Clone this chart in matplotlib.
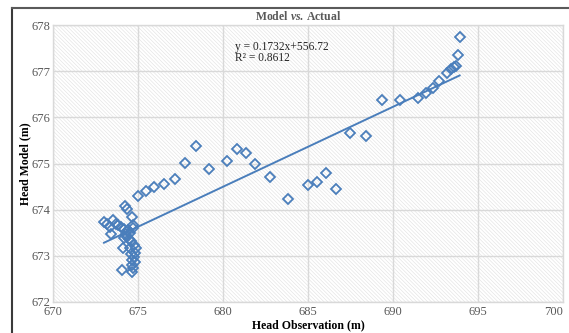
import numpy as np
import matplotlib
matplotlib.use("Agg")
import matplotlib.pyplot as plt
from matplotlib.patches import Rectangle
from matplotlib.lines import Line2D

# --- data ---
obs_upper = [693.92, 693.80, 693.73, 693.57, 693.40, 693.18, 692.73, 692.36,
             691.95, 691.48, 690.39, 689.37, 688.40, 687.49]
mod_upper = [677.73, 677.34, 677.12, 677.09, 677.04, 676.97, 676.78, 676.64,
             676.52, 676.41, 676.37, 676.37, 675.59, 675.67]

obs_mid = [686.65, 686.06, 685.52, 684.99, 683.84, 682.75, 681.89, 681.33,
           680.80, 680.21, 679.18, 678.40, 677.74, 677.15, 676.51, 675.96,
           675.48, 675.01]
mod_mid = [674.45, 674.79, 674.60, 674.54, 674.23, 674.70, 675.00, 675.22,
           675.32, 675.06, 674.88, 675.38, 675.02, 674.67, 674.56, 674.50,
           674.41, 674.30]

obs_cluster = [673.00, 673.16, 673.35, 673.39, 673.55, 673.70, 673.85, 674.00,
               674.15, 674.23, 674.35, 674.66, 674.70, 674.72, 674.17, 674.27,
               674.37, 674.46, 674.60, 674.11, 674.52, 674.75, 674.91, 674.85,
               674.56, 674.75, 674.66, 674.85, 674.66, 674.72, 674.04, 674.66,
               674.50, 674.40]
mod_cluster = [673.74, 673.68, 673.62, 673.47, 673.78, 673.70, 673.66, 673.62,
               673.58, 674.07, 674.02, 673.85, 673.67, 673.60, 673.38, 673.47,
               673.41, 673.36, 673.32, 673.17, 673.16, 673.23, 673.16, 673.07,
               673.05, 672.98, 672.91, 672.87, 672.80, 672.74, 672.69, 672.66,
               673.50, 673.55]

head_obs = np.array(obs_cluster + obs_mid + obs_upper)
head_model = np.array(mod_cluster + mod_mid + mod_upper)

# trendline as reported on the chart
slope = 0.1732
intercept = 556.72
r_squared = 0.8612

x_ticks = [670, 675, 680, 685, 690, 695, 700]
y_ticks = [672, 673, 674, 675, 676, 677, 678]

blue = "#4a7ebb"
grey_text = "#595959"

plt.rcParams["font.family"] = ["Liberation Serif", "DejaVu Serif"]
plt.rcParams["mathtext.fontset"] = "custom"
plt.rcParams["mathtext.rm"] = "Liberation Serif:bold"
plt.rcParams["mathtext.it"] = "Liberation Serif:italic:bold"
plt.rcParams["hatch.linewidth"] = 0.45

fig = plt.figure(figsize=(5.69, 3.33), dpi=100)
ax = fig.add_axes([53 / 569, 1 - 302 / 333, 510 / 569, 277 / 333])

# finely hatched plot area
ax.add_patch(Rectangle((0, 0), 1, 1, transform=ax.transAxes, facecolor="white",
                       edgecolor="#e3e3e3", linewidth=0, hatch="\\" * 9, zorder=0))

ax.set_xlim(670, 700)
ax.set_ylim(672, 678)
ax.set_xticks(x_ticks)
ax.set_yticks(y_ticks)
ax.grid(True, color="#d9d9d9", linewidth=1.0, zorder=1)
ax.set_axisbelow(True)
for sp in ax.spines.values():
    sp.set_color("#d9d9d9")
    sp.set_linewidth(1.0)
ax.tick_params(length=0, labelsize=9, labelcolor=grey_text, pad=2)
ax.tick_params(axis="x", pad=3)
ax.get_xticklabels()[-1].set_horizontalalignment("right")

ax.plot(head_obs, head_model, linestyle="none", marker="D", markersize=4.6,
        markerfacecolor="none", markeredgecolor=blue, markeredgewidth=1.3, zorder=3)

xs = np.array([head_obs.min(), head_obs.max()])
ax.plot(xs, slope * xs + intercept, color=blue, linewidth=1.4, zorder=4)

ax.text(680.7, 677.65, f"y = {slope}x+{intercept}\nR² = {r_squared}",
        fontsize=8.3, color="#262626", va="top", ha="left", linespacing=0.9, zorder=5)

ax.set_xlabel("Head Observation (m)", fontsize=8.5, fontweight="bold", labelpad=1)
ax.set_ylabel("Head Model (m)", fontsize=8.5, fontweight="bold")
ax.yaxis.set_label_coords(-0.042, 0.5)

fig.text(298 / 569, 1 - 16 / 333, r"$\mathrm{Model}\ \mathit{vs.}\,\mathrm{Actual}$",
         ha="center", va="center", fontsize=8.5, color=grey_text)

# outer chart frame (left and top edges)
fig.add_artist(Line2D([12 / 569, 12 / 569], [0, 1 - 8 / 333], transform=fig.transFigure,
                      color="#3a3a3a", linewidth=1.5))
fig.add_artist(Line2D([12 / 569, 1], [1 - 8 / 333, 1 - 8 / 333], transform=fig.transFigure,
                      color="#5a5a5a", linewidth=1.5))

fig.savefig("out.png", dpi=100)
